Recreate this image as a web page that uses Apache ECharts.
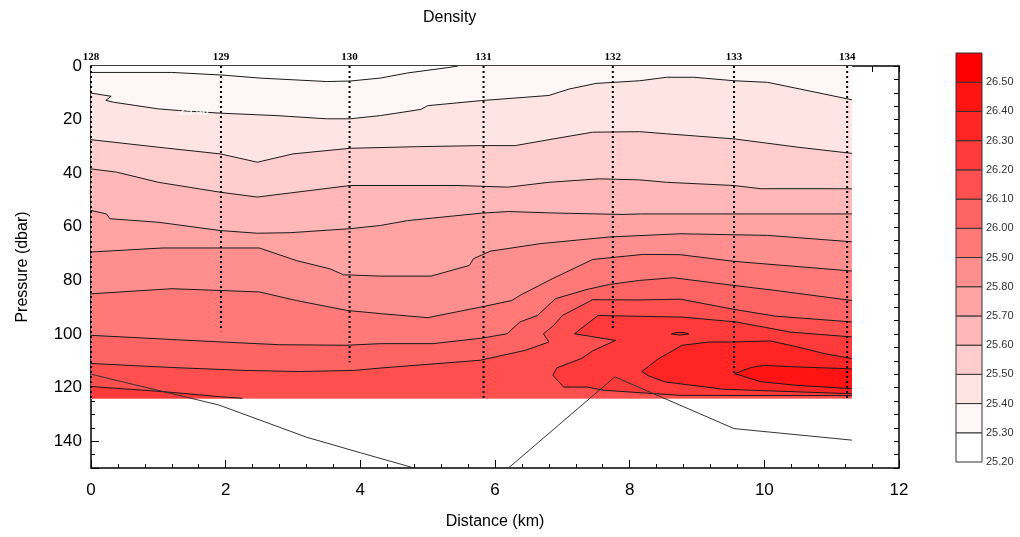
<!DOCTYPE html>
<html>
<head>
<meta charset="utf-8">
<title>Density section</title>
<script src="https://cdn.jsdelivr.net/npm/echarts@6/dist/echarts.min.js"></script>
<style>
  html, body { margin: 0; padding: 0; background: #fff; }
  #chart { width: 1020px; height: 537px; }
</style>
</head>
<body>
<div id="chart"></div>
<script>
// stations along the section: distance (km), number, cast depth (dbar)
const stationKm = [0, 1.93, 3.84, 5.83, 7.75, 9.55, 11.23]
const stationNames = ['128', '129', '130', '131', '132', '133', '134']
const stationDepth = [124, 99, 110.5, 124, 98, 115, 124]

// density levels and the colour of the band above each level
const levels = [25.2, 25.3, 25.4, 25.5, 25.6, 25.7, 25.8, 25.9, 26.0, 26.1, 26.2, 26.3, 26.4, 26.5, 26.6]
const bandColors = ['#ffffff', '#fff7f7', '#ffe4e4', '#ffcdcd', '#ffb7b7', '#ffa3a3', '#ff8f8f',
  '#ff7979', '#ff6464', '#ff4f4f', '#ff3a3a', '#ff2525', '#ff1313', '#ff0000']

// extent of the gridded section
const sectionEnd = 11.3
const sectionBottom = 124

// contour lines, [distance km, pressure dbar]
const c2530 = [[0,2.4],[1.2,2.4],[1.96,3.4],[2.5,4.5],[3.5,5.8],[3.85,5.6],[4.3,4.5],[4.7,2.6],[5.3,0.6],[5.45,0]]
const c2540 = [[0,10.1],[0.3,11.3],[0.22,12.8],[0.33,13.5],[1.0,16],[1.3,16.6],[1.92,17.6],[2.75,18.5],[3.5,19.7],
  [3.85,19.7],[4.3,18.5],[4.9,16.2],[5.0,14.8],[5.8,12.9],[6.8,11],[7.1,8.6],[7.5,6.5],[8.15,5.5],[8.55,4.2],
  [8.95,4.2],[9.55,5.5],[10.05,6.1],[11.3,12.6]]
const c2550 = [[0,27.5],[1.0,30.3],[1.92,32.8],[2.47,35.9],[3.0,32.8],[3.85,30.7],[4.85,30.1],[5.8,29.7],[6.3,29.7],
  [6.8,27.5],[7.45,24.7],[8.15,24.5],[8.55,25.3],[9.55,27.2],[10.5,30.3],[11.3,32.6]]
const c2560 = [[0,38.4],[0.38,39.6],[1.0,43.4],[1.92,47.1],[2.47,48.9],[3.85,44.6],[5.45,44.6],[6.2,45.2],[6.8,43.4],
  [7.55,42.1],[8.15,42.5],[8.55,43.4],[9.55,44.6],[9.95,45.8],[11.3,45.8]]
const c2570 = [[0,53.9],[0.23,55.2],[0.28,57],[1.0,58.3],[1.92,61.4],[2.47,62.4],[2.96,62.2],[3.85,60.7],[4.3,59.5],
  [4.7,57.7],[5.8,54.9],[6.2,54.3],[6.8,54.8],[7.9,55.4],[8.16,55.2],[11.3,55.2]]
const c2580 = [[0,69.4],[1.07,67.9],[2.5,67.9],[3.05,72.6],[3.55,75.7],[3.75,77.9],[4.3,78.4],[5.05,78.4],[5.62,74.4],
  [5.68,71.9],[5.93,69.1],[6.67,66.3],[7.7,63.8],[8.75,62.6],[10.05,63.2],[11.3,65.6]]
const c2590 = [[0,85],[1.2,83.1],[2.5,84.3],[3.05,87.5],[3.8,91.2],[4.3,92.4],[5.0,93.9],[5.8,89.9],[6.25,87.5],
  [6.37,85.6],[6.85,79.4],[7.45,72.2],[8.2,70.3],[8.75,70.4],[9.55,72.9],[11.3,76.5]]
const c2600 = [[0,100.5],[1.47,102.4],[2.8,104],[3.8,104.2],[4.3,103.6],[5.08,103.6],[5.82,101.5],[6.18,99.9],
  [6.37,95.5],[6.63,93.1],[6.9,86.8],[7.35,83.5],[7.7,81.5],[8.15,80],[8.65,79],[9.55,81.9],[10.15,83.7],[11.3,87.5]]
const c2610 = [[0,111],[1.2,112.5],[2.3,113.6],[3.1,114],[3.9,113.6],[4.3,112.7],[5.78,109.8],[6.45,106.1],[6.8,103],
  [6.72,99.9],[6.87,96.8],[7.0,93.1],[7.45,87.2],[8.15,87.3],[8.75,87],[9.55,90.8],[10.15,93.3],[11.3,95.5]]
const c2620w = [[0,119.6],[1.07,121.5],[1.92,123.4],[2.25,124]]
const c2620e = [[11.3,101.1],[10.39,99.3],[9.58,95.5],[8.78,93.7],[7.53,93.1],[7.18,99.9],[7.79,102.4],[7.45,106.3],
  [7.28,109.2],[6.92,112.6],[6.86,115.4],[7.02,119.8],[7.37,119.8],[7.62,121],[8.75,122.9],[11.3,123]]
const c2630 = [[11.3,109.2],[10.89,107.3],[10.49,104.8],[10.09,102.6],[9.5,103],[9.18,103],[8.78,104.2],[8.43,109.2],
  [8.18,114],[8.28,115.6],[8.53,117.9],[9.39,120.6],[11.3,122.3]]
const c2630s = [[8.62,100],[8.7,99.4],[8.82,99.5],[8.88,100],[8.75,100.4],[8.62,100]]
const c2640 = [[11.3,113],[10.5,112.3],[10.0,111.7],[9.8,112.5],[9.56,114.8],[9.95,117.8],[10.5,119.2],[11.3,120.4]]

// sea floor traces
const floorWest = [[0,115],[1.9,126.5],[3.2,138.5],[4.0,144.3],[4.8,150]]
const floorEast = [[6.2,150],[7.78,116],[9.55,135.3],[11.3,139.6]]

// contour label
const contourLabels = [[1.53, 17, '25.40']]

// bands painted from the top down, each one covering the ones above it
const fills = [
  { pts: [[0,0],[sectionEnd,0],[sectionEnd,sectionBottom],[0,sectionBottom]], close: [], band: 0 },
  { pts: c2530, close: [[sectionEnd,0],[sectionEnd,sectionBottom],[0,sectionBottom]], band: 1 },
  { pts: c2540, close: [[sectionEnd,sectionBottom],[0,sectionBottom]], band: 2 },
  { pts: c2550, close: [[sectionEnd,sectionBottom],[0,sectionBottom]], band: 3 },
  { pts: c2560, close: [[sectionEnd,sectionBottom],[0,sectionBottom]], band: 4 },
  { pts: c2570, close: [[sectionEnd,sectionBottom],[0,sectionBottom]], band: 5 },
  { pts: c2580, close: [[sectionEnd,sectionBottom],[0,sectionBottom]], band: 6 },
  { pts: c2590, close: [[sectionEnd,sectionBottom],[0,sectionBottom]], band: 7 },
  { pts: c2600, close: [[sectionEnd,sectionBottom],[0,sectionBottom]], band: 8 },
  { pts: c2610, close: [[sectionEnd,sectionBottom],[0,sectionBottom]], band: 9 },
  { pts: c2620w, close: [[0,sectionBottom]], band: 10 },
  { pts: c2620e, close: [], band: 10 },
  { pts: c2630, close: [], band: 11 },
  { pts: c2630s, close: [], band: 11 },
  { pts: c2640, close: [], band: 12 }
]
const contourLines = [c2530, c2540, c2550, c2560, c2570, c2580, c2590, c2600, c2610, c2620w, c2620e, c2630, c2630s, c2640]

const font = 'Arial, "Liberation Sans", sans-serif'
const black = '#000'

let chart = echarts.init(document.getElementById('chart'))

function renderFill(params, api) {
  const f = fills[params.dataIndex]
  const points = f.pts.concat(f.close).map(p => api.coord(p))
  return { type: 'polygon', shape: { points: points }, style: { fill: bandColors[f.band] } }
}

function renderKey(params, api) {
  const lo = api.coord([0, api.value(1)])
  const hi = api.coord([1, api.value(2)])
  return {
    type: 'rect',
    shape: { x: lo[0], y: hi[1], width: hi[0] - lo[0], height: lo[1] - hi[1] },
    style: { fill: bandColors[params.dataIndex], stroke: '#333', lineWidth: 1 }
  }
}

let series = [{
  type: 'custom',
  xAxisIndex: 0,
  yAxisIndex: 0,
  renderItem: renderFill,
  data: fills.map(f => f.pts[0]),
  silent: true,
  z: 1
}]

contourLines.forEach(line => {
  series.push({
    type: 'line', xAxisIndex: 0, yAxisIndex: 0, data: line, symbol: 'none', silent: true, z: 2,
    lineStyle: { color: '#1a1a1a', width: 1 }
  })
})

;[floorWest, floorEast].forEach(line => {
  series.push({
    type: 'line', xAxisIndex: 0, yAxisIndex: 0, data: line, symbol: 'none', silent: true, z: 2,
    lineStyle: { color: '#333', width: 1 }
  })
})

stationKm.forEach((km, i) => {
  series.push({
    type: 'line', xAxisIndex: 0, yAxisIndex: 0, data: [[km, 0], [km, stationDepth[i]]], symbol: 'none', silent: true, z: 3,
    lineStyle: { color: black, width: 2, type: [2, 3] }
  })
})

series.push({
  type: 'scatter', xAxisIndex: 0, yAxisIndex: 0, symbolSize: 0, silent: true, z: 4,
  data: contourLabels,
  label: {
    show: true, position: 'inside', formatter: p => p.value[2],
    color: '#fff', fontSize: 12, fontWeight: 'bold', fontFamily: font
  }
})

// colour key
series.push({
  type: 'custom',
  xAxisIndex: 2,
  yAxisIndex: 2,
  renderItem: renderKey,
  data: levels.slice(0, -1).map((v, i) => [0, v, levels[i + 1]]),
  silent: true
})

let option = {
  animation: false,
  backgroundColor: '#fff',
  title: {
    text: 'Density', left: 418, top: 5,
    textStyle: { fontSize: 16, fontWeight: 'normal', color: black, fontFamily: font }
  },
  grid: [
    { left: 91, top: 66, width: 808, height: 402 },
    { left: 956, top: 53, width: 26, height: 409 }
  ],
  xAxis: [{
    gridIndex: 0, type: 'value', position: 'bottom', min: 0, max: 12, interval: 2,
    name: 'Distance (km)', nameLocation: 'middle', nameGap: 46,
    nameTextStyle: { fontSize: 16, color: black, fontFamily: font },
    axisLine: { onZero: false, lineStyle: { color: black, width: 1.5 } },
    axisTick: { inside: true, length: 8, lineStyle: { color: black } },
    minorTick: { show: true, splitNumber: 5, length: 4, lineStyle: { color: black } },
    axisLabel: { fontSize: 17, color: black, fontFamily: font, margin: 14 },
    splitLine: { show: false }
  }, {
    gridIndex: 0, type: 'value', position: 'top', min: 0, max: 12, interval: 0.4,
    axisLine: { onZero: false, lineStyle: { color: black, width: 1.5 } },
    axisTick: { inside: true, length: 6, lineStyle: { color: black } },
    axisLabel: {
      customValues: stationKm,
      formatter: v => {
        let best = 0
        stationKm.forEach((km, i) => { if (Math.abs(km - v) < Math.abs(stationKm[best] - v)) best = i })
        return stationNames[best]
      },
      fontSize: 11, fontWeight: 'bold', color: black, fontFamily: '"Liberation Serif", "Times New Roman", serif', margin: 3
    },
    splitLine: { show: false }
  }, {
    gridIndex: 1, type: 'value', min: 0, max: 1, show: false
  }],
  yAxis: [{
    gridIndex: 0, type: 'value', position: 'left', inverse: true, min: 0, max: 150, interval: 20,
    name: 'Pressure (dbar)', nameLocation: 'middle', nameGap: 60, nameRotate: 90,
    nameTextStyle: { fontSize: 16, color: black, fontFamily: font },
    axisLine: { onZero: false, lineStyle: { color: black, width: 1.5 } },
    axisTick: { inside: true, length: 8, lineStyle: { color: black } },
    minorTick: { show: true, splitNumber: 4, length: 4, lineStyle: { color: black } },
    axisLabel: { fontSize: 17, color: black, fontFamily: font, margin: 9, showMaxLabel: false },
    splitLine: { show: false }
  }, {
    gridIndex: 0, type: 'value', position: 'right', inverse: true, min: 0, max: 150, interval: 5,
    axisLine: { onZero: false, lineStyle: { color: black, width: 1.5 } },
    axisTick: { inside: true, length: 5, lineStyle: { color: black } },
    axisLabel: { show: false },
    splitLine: { show: false }
  }, {
    gridIndex: 1, type: 'value', position: 'right', min: 25.2, max: 26.6, interval: 0.1,
    axisLine: { show: false },
    axisTick: { show: false },
    axisLabel: { fontSize: 11, color: '#333', fontFamily: font, margin: 4, showMaxLabel: false, formatter: v => v.toFixed(2) },
    splitLine: { show: false }
  }],
  series: series
}

chart.setOption(option)
</script>
</body>
</html>
